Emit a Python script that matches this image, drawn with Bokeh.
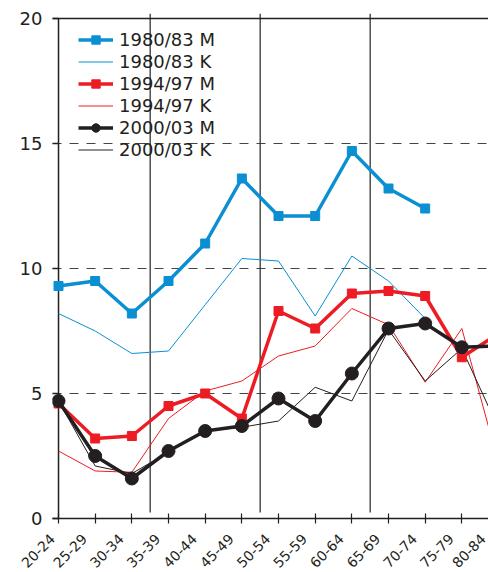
import math
from bokeh.plotting import figure
from bokeh.models import (Span, FixedTicker, CustomJSTickFormatter, Legend,
                          LegendItem, Range1d)
from bokeh.embed import file_html
from bokeh.resources import INLINE

# ---- data -----------------------------------------------------------------
categories = ["20-24", "25-29", "30-34", "35-39", "40-44", "45-49", "50-54",
              "55-59", "60-64", "65-69", "70-74", "75-79", "80-84"]
m_8083 = [9.3, 9.5, 8.2, 9.5, 11.0, 13.6, 12.1, 12.1, 14.7, 13.2, 12.4]
k_8083 = [8.2, 7.5, 6.6, 6.7, 8.55, 10.4, 10.3, 8.1, 10.5, 9.5, 8.0]
m_9497 = [4.6, 3.2, 3.3, 4.5, 5.0, 4.0, 8.3, 7.6, 9.0, 9.1, 8.9, 6.45, 7.4]
k_9497 = [2.7, 1.9, 1.85, 4.0, 5.1, 5.5, 6.5, 6.9, 8.4, 7.75, 5.45, 7.6, 2.2]
m_0003 = [4.7, 2.5, 1.6, 2.7, 3.5, 3.7, 4.8, 3.9, 5.8, 7.6, 7.8, 6.85, 6.9]
k_0003 = [4.7, 2.1, 1.8, 2.65, 3.5, 3.65, 3.9, 5.25, 4.7, 7.55, 5.5, 6.8, 3.6]
y_ticks = [0, 5, 10, 15, 20]
dividers = [2.5, 5.5, 8.5]

BLUE = "#0b8fd3"
RED = "#ed1c24"
BLACK = "#231f20"
FONT = "DejaVu Sans"
LABEL_SHIFT = 0.29
X_START, X_END = -0.164, 11.727

p = figure(width=488, height=585, output_backend="svg", toolbar_location=None,
           x_range=Range1d(X_START, X_END), y_range=Range1d(0, 20.2),
           min_border_left=52, min_border_right=0, min_border_top=13,
           min_border_bottom=67)
p.outline_line_color = None
p.background_fill_color = "white"
p.border_fill_color = "white"

# ---- grid -----------------------------------------------------------------
p.xgrid.visible = False
p.ygrid.ticker = FixedTicker(ticks=y_ticks)
p.ygrid.grid_line_color = "#444444"
p.ygrid.grid_line_dash = "9 8"
p.ygrid.grid_line_width = 1.2

top_line = Span(location=y_ticks[-1], dimension="width", line_color=BLACK,
                line_width=1.3)
p.add_layout(top_line)

# ---- vertical divider lines ----------------------------------------------
p.segment(x0=dividers, y0=[0.24] * len(dividers), x1=dividers,
          y1=[20.2] * len(dividers), line_color="#333333", line_width=1.3)

# y axis line at first category
p.segment(x0=[0], y0=[y_ticks[0]], x1=[0], y1=[y_ticks[-1]],
          line_color=BLACK, line_width=1.5)

# ---- series ---------------------------------------------------------------
xs = list(range(len(categories)))

r_k80 = p.line(xs[:len(k_8083)], k_8083, line_color=BLUE, line_width=1)
r_k94 = p.line(xs[:len(k_9497)], k_9497, line_color=RED, line_width=1)
r_k00 = p.line(xs[:len(k_0003)], k_0003, line_color=BLACK, line_width=1)

r_m80l = p.line(xs[:len(m_8083)], m_8083, line_color=BLUE, line_width=3.5)
r_m80s = p.scatter(xs[:len(m_8083)], m_8083, marker="square", size=9,
                   fill_color=BLUE, line_color=BLUE)
r_m94l = p.line(xs[:len(m_9497)], m_9497, line_color=RED, line_width=3.5)
r_m94s = p.scatter(xs[:len(m_9497)], m_9497, marker="square", size=9,
                   fill_color=RED, line_color=RED)
r_m00l = p.line(xs[:len(m_0003)], m_0003, line_color=BLACK, line_width=3.5)
r_m00s = p.scatter(xs[:len(m_0003)], m_0003, marker="circle", size=13,
                   fill_color=BLACK, line_color=BLACK)

# ---- axes -----------------------------------------------------------------
yax = p.yaxis[0]
yax.ticker = FixedTicker(ticks=y_ticks)
yax.axis_line_color = None
yax.major_tick_in = 6
yax.major_tick_out = 0
yax.minor_tick_line_color = None
yax.major_tick_line_color = BLACK
yax.major_tick_line_width = 1.3
yax.major_label_standoff = 10
yax.major_label_text_font = FONT
yax.major_label_text_font_size = "18px"
yax.major_label_text_color = BLACK

# label anchors sit a little left of each tick (kept inside the visible range)
label_ticks = [min(max(i - LABEL_SHIFT, X_START + 0.004), X_END - 0.14)
               for i in xs]
xax = p.xaxis[0]
xax.ticker = FixedTicker(ticks=label_ticks, minor_ticks=xs)
xax.formatter = CustomJSTickFormatter(
    args=dict(labels=categories, shift=LABEL_SHIFT),
    code="const i = Math.round(tick + shift); return labels[i] || '';")
xax.axis_line_color = BLACK
xax.axis_line_width = 1.5
xax.major_tick_in = 0
xax.major_tick_out = 0
xax.minor_tick_in = 5
xax.minor_tick_out = 5
xax.minor_tick_line_color = BLACK
xax.minor_tick_line_width = 1.2
xax.major_label_orientation = math.pi / 4
xax.major_label_standoff = 13
xax.major_label_text_font = FONT
xax.major_label_text_font_size = "14px"
xax.major_label_text_color = BLACK

# ---- legend ---------------------------------------------------------------
legend = Legend(items=[
    LegendItem(label="1980/83 M", renderers=[r_m80l, r_m80s]),
    LegendItem(label="1980/83 K", renderers=[r_k80]),
    LegendItem(label="1994/97 M", renderers=[r_m94l, r_m94s]),
    LegendItem(label="1994/97 K", renderers=[r_k94]),
    LegendItem(label="2000/03 M", renderers=[r_m00l, r_m00s]),
    LegendItem(label="2000/03 K", renderers=[r_k00]),
], location=(26, 358))
legend.background_fill_alpha = 0
legend.border_line_color = None
legend.label_text_font = FONT
legend.label_text_font_size = "18px"
legend.label_text_color = BLACK
legend.glyph_width = 35
legend.glyph_height = 21
legend.label_height = 22
legend.spacing = 0
legend.padding = 0
legend.margin = 0
legend.label_standoff = 6
p.add_layout(legend)

open("out.html", "w").write(file_html(p, INLINE))
